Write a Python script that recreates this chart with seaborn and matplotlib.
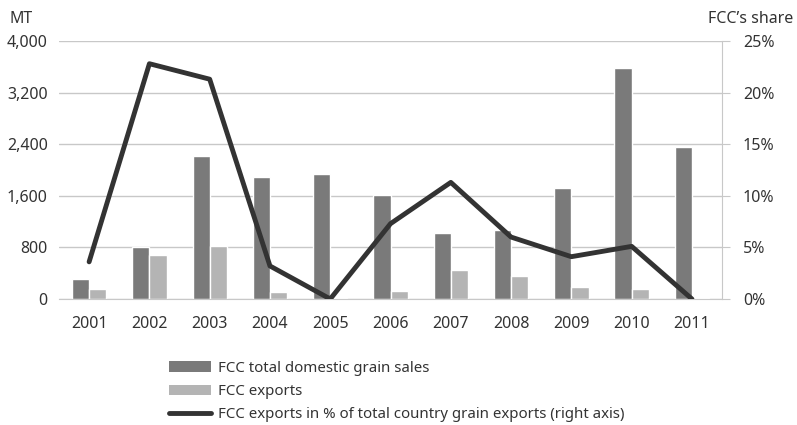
import seaborn as sns
import matplotlib.pyplot as plt
import matplotlib.ticker as mticker
from matplotlib.patches import Patch
from matplotlib.lines import Line2D
import pandas as pd
import numpy as np

# Datos
years = ["2001", "2002", "2003", "2004", "2005", "2006", "2007", "2008", "2009", "2010", "2011"]
domestic_sales = [305, 800, 2217, 1891, 1938, 1617, 1023, 1070, 1716, 3577, 2361]
exports = [155, 677, 822, 103, 20, 130, 450, 352, 181, 155, 15]
share_pct = [3.6, 22.8, 21.3, 3.2, 0.0, 7.3, 11.3, 6.0, 4.1, 5.1, 0.0]

lbl_dom = "FCC total domestic grain sales"
lbl_exp = "FCC exports"
lbl_share = "FCC exports in % of total country grain exports (right axis)"

df = pd.DataFrame({
    "year": years * 2,
    "value": domestic_sales + exports,
    "serie": [lbl_dom] * len(years) + [lbl_exp] * len(years),
})
df_share = pd.DataFrame({"year": years, "share": share_pct})

sns.set_style("white")
plt.rcParams["font.family"] = ["Noto Sans", "DejaVu Sans"]

c_dom = "#7a7a7a"
c_exp = "#b4b4b4"
c_line = "#333333"
c_grid = "#c8c8c8"
c_text = "#333333"

fig = plt.figure(figsize=(7.97, 4.25), dpi=100)
ax = fig.add_axes([0.074, 0.2965, 0.832, 0.607])

sns.barplot(data=df, x="year", y="value", hue="serie", palette=[c_dom, c_exp],
            width=0.57, gap=0, ax=ax, legend=False, saturation=1)

ax.set_ylim(0, 4000)
ax.set_yticks([0, 800, 1600, 2400, 3200, 4000])
ax.yaxis.set_major_formatter(mticker.FuncFormatter(lambda v, p: f"{int(v):,}"))
ax.grid(axis="y", color=c_grid, linewidth=1)
ax.set_axisbelow(True)
ax.set_xlabel("")
ax.set_ylabel("")
ax.set_xlim(-0.5, 10.5)

# Eje derecho
ax2 = ax.twinx()
sns.lineplot(data=df_share, x="year", y="share", color=c_line, linewidth=3.5,
             ax=ax2, sort=False, legend=False)
ax2.set_ylim(0, 25)
ax2.set_yticks([0, 5, 10, 15, 20, 25])
ax2.yaxis.set_major_formatter(mticker.FuncFormatter(lambda v, p: f"{int(v)}%"))
ax2.set_ylabel("")
ax2.set_xlim(-0.5, 10.5)

for a in (ax, ax2):
    for s in ("top", "left"):
        a.spines[s].set_visible(False)
    a.spines["bottom"].set_color(c_grid)
    a.spines["right"].set_color(c_grid)

ax.spines["right"].set_visible(False)
ax2.spines["bottom"].set_visible(False)

# Marcas del eje x entre categorías
ax.set_xticks(range(len(years)))
ax.set_xticklabels(years)
ax.set_xticks(np.arange(-0.5, 11, 1), minor=True)
ax.tick_params(axis="x", which="major", length=0, pad=12, labelsize=11.5, labelcolor=c_text)
ax.tick_params(axis="x", which="minor", length=6, color=c_grid, direction="out")
ax.tick_params(axis="y", length=0, pad=8, labelsize=11.5, labelcolor=c_text)
ax2.tick_params(axis="y", length=6, color=c_grid, pad=9, labelsize=11.5, labelcolor=c_text)

fig.text(0.012, 0.955, "MT", fontsize=11.5, color=c_text, ha="left", va="center")
fig.text(0.995, 0.955, "FCC\u2019s share", fontsize=11.5, color=c_text, ha="right", va="center")

handles = [
    Patch(facecolor=c_dom, edgecolor="none"),
    Patch(facecolor=c_exp, edgecolor="none"),
    Line2D([0], [0], color=c_line, linewidth=3.5),
]
fig.legend(handles, [lbl_dom, lbl_exp, lbl_share], loc="upper left",
           bbox_to_anchor=(0.205, 0.165), frameon=False, fontsize=10.8,
           handlelength=2.8, handleheight=0.7, handletextpad=0.45,
           labelspacing=0.55, borderaxespad=0, labelcolor=c_text)

plt.savefig("out.png", dpi=100)
